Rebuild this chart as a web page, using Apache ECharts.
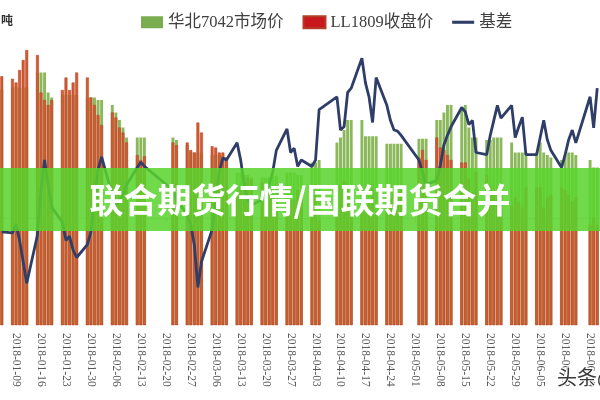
<!DOCTYPE html>
<html>
<head>
<meta charset="utf-8">
<script src="https://cdn.jsdelivr.net/npm/echarts/dist/echarts.min.js"></script>
<style>
html,body{margin:0;padding:0;background:#fff;}
#chart{width:600px;height:400px;}
</style>
</head>
<body>
<div id="chart"></div>
<script>
// Axis span (calendar days shown on the category axis)
const axisStart = '2018-01-05';
const axisEnd = '2018-06-21';

// Trading days
const tradeDates = [
'2018-01-05',
'2018-01-08','2018-01-09','2018-01-10','2018-01-11','2018-01-12',
'2018-01-15','2018-01-16','2018-01-17','2018-01-18','2018-01-19',
'2018-01-22','2018-01-23','2018-01-24','2018-01-25','2018-01-26',
'2018-01-29','2018-01-30','2018-01-31','2018-02-01','2018-02-02',
'2018-02-05','2018-02-06','2018-02-07','2018-02-08','2018-02-09',
'2018-02-12','2018-02-13','2018-02-14',
'2018-02-22','2018-02-23',
'2018-02-26','2018-02-27','2018-02-28','2018-03-01','2018-03-02',
'2018-03-05','2018-03-06','2018-03-07','2018-03-08','2018-03-09',
'2018-03-12','2018-03-13','2018-03-14','2018-03-15','2018-03-16',
'2018-03-19','2018-03-20','2018-03-21','2018-03-22','2018-03-23',
'2018-03-26','2018-03-27','2018-03-28','2018-03-29','2018-03-30',
'2018-04-02','2018-04-03','2018-04-04',
'2018-04-09','2018-04-10','2018-04-11','2018-04-12','2018-04-13',
'2018-04-16','2018-04-17','2018-04-18','2018-04-19','2018-04-20',
'2018-04-23','2018-04-24','2018-04-25','2018-04-26','2018-04-27',
'2018-05-02','2018-05-03','2018-05-04',
'2018-05-07','2018-05-08','2018-05-09','2018-05-10','2018-05-11',
'2018-05-14','2018-05-15','2018-05-16','2018-05-17','2018-05-18',
'2018-05-21','2018-05-22','2018-05-23','2018-05-24','2018-05-25',
'2018-05-28','2018-05-29','2018-05-30','2018-05-31','2018-06-01',
'2018-06-04','2018-06-05','2018-06-06','2018-06-07','2018-06-08',
'2018-06-11','2018-06-12','2018-06-13','2018-06-14','2018-06-15',
'2018-06-19','2018-06-20','2018-06-21'
];

// 华北7042市场价
const market7042 = [
9680,
9700,9700,9700,9700,9700,
9820,9820,9820,9660,9620,
9640,9640,9640,9640,9640,
9620,9620,9620,9600,9600,
9560,9500,9440,9380,9300,
9300,9300,9300,
9300,9280,
9240,9180,9180,9180,9180,
9160,9160,9160,9160,9140,
9020,9020,9000,9000,8980,
8980,8980,8980,8990,8990,
9020,9020,9020,9000,9000,
9100,9100,9120,
9260,9300,9360,9440,9440,
9440,9310,9310,9310,9310,
9250,9250,9250,9250,9250,
9290,9290,9290,
9440,9440,9500,9560,9560,
9540,9560,9380,9300,9300,
9280,9280,9300,9300,9300,
9260,9180,9180,9180,9180,
9180,9260,9180,9160,9140,
9120,9160,9180,9180,9160,
9120,9060,9060
];

// LL1809收盘价
const ll1809 = [
9790,
9770,9740,9840,9920,10000,
9960,9660,9600,9560,9600,
9680,9780,9680,9740,9820,
9780,9620,9560,9480,9400,
9500,9460,9380,9340,9260,
9160,9120,9150,
9260,9240,
9260,9200,9180,9420,9340,
9230,9220,9180,9180,9140,
8840,8900,8940,8980,8960,
8940,8920,8880,8840,8760,
8680,8800,8800,8880,8840,
8880,8840,8640,
8710,8910,8950,8870,8860,
8720,8700,8770,8890,8680,
8740,8810,8860,8860,8880,
9140,9200,9120,
9300,9220,9200,9160,9120,
9100,9100,8970,8860,9020,
9000,8910,8860,8800,8860,
8750,8820,8780,8740,8900,
8900,8900,8740,8820,8840,
8900,8880,8840,8790,8820,
8600,8660,8600
];

// 基差
const basis = [
-65,
-70,-30,-105,-205,-305,
-80,130,270,155,50,
-20,-105,-85,-150,-185,
-125,-65,85,225,285,
105,60,85,105,155,
235,260,240,
130,85,
15,-35,-125,-325,-205,
-55,85,215,280,270,
350,270,155,85,60,
85,105,155,215,315,
415,305,325,240,270,
240,270,505,
565,410,425,585,605,
745,630,565,445,655,
525,455,410,405,385,
270,215,155,
175,245,340,385,425,
515,495,435,455,305,
295,385,455,525,465,
525,375,425,470,295,
295,375,455,365,315,
235,295,365,410,350,
565,420,605
];

// Build the calendar axis and place the trading-day values on it
function fmt(d){
  const m = String(d.getUTCMonth()+1).padStart(2,'0');
  const dd = String(d.getUTCDate()).padStart(2,'0');
  return d.getUTCFullYear()+'-'+m+'-'+dd;
}
const calendar = [];
for (let t = Date.parse(axisStart+'T00:00:00Z'); t <= Date.parse(axisEnd+'T00:00:00Z'); t += 86400000) {
  calendar.push(fmt(new Date(t)));
}
const pos = {};
tradeDates.forEach((d,i)=>{pos[d]=i;});
const onAxis = arr => calendar.map(d => (d in pos) ? arr[pos[d]] : null);
const isTuesday = (idx, value) => new Date(value+'T00:00:00Z').getUTCDay() === 2;

const serifFont = "'Liberation Serif','Noto Sans CJK SC',serif";

const chart = echarts.init(document.getElementById('chart'), null, {renderer:'canvas'});
chart.setOption({
  animation: false,
  backgroundColor: '#ffffff',
  legend: {
    top: 9,
    left: 136,
    itemWidth: 22,
    itemHeight: 12,
    itemGap: 19,
    textStyle: {fontSize: 16.5, color: '#404040', fontFamily: serifFont},
    data: [
      {name: '华北7042市场价', icon: 'rect', itemStyle: {color: '#79ad4f'}},
      {name: 'LL1809收盘价', icon: 'rect', itemStyle: {color: '#c9171e'}},
      {name: '基差', icon: 'path://M0,0L100,0L100,14L0,14Z', itemStyle: {color: '#2f3e68'}}
    ]
  },
  grid: {left: 0, right: 1, top: 25, bottom: 75, containLabel: false},
  xAxis: {
    type: 'category',
    data: calendar,
    boundaryGap: true,
    axisLine: {lineStyle: {color: '#d0d0d0', width: 1}},
    axisTick: {show: true, alignWithLabel: true, interval: isTuesday, length: 4, lineStyle: {color: '#bfbfbf'}},
    axisLabel: {
      interval: isTuesday,
      rotate: -90,
      fontSize: 11.5,
      color: '#595959',
      fontFamily: serifFont,
      margin: 8
    },
    splitLine: {show: false}
  },
  yAxis: [
    {type: 'value', min: 7800, max: 10200, show: false, splitLine: {show: false}},
    {type: 'value', min: -500, max: 900, show: false, splitLine: {show: false}}
  ],
  series: [
    {
      name: '华北7042市场价',
      type: 'bar',
      data: onAxis(market7042),
      barCategoryGap: '18%',
      barGap: '-100%',
      itemStyle: {color: '#8cb85c'}
    },
    {
      name: 'LL1809收盘价',
      type: 'bar',
      data: onAxis(ll1809),
      barCategoryGap: '18%',
      barGap: '-100%',
      itemStyle: {color: '#d25a2d', borderColor: '#b2402a', borderWidth: 0.5}
    },
    {
      name: '基差',
      type: 'line',
      yAxisIndex: 1,
      data: onAxis(basis),
      connectNulls: true,
      symbol: 'none',
      lineStyle: {color: '#2f3e68', width: 2.8},
      itemStyle: {color: '#2f3e68'}
    }
  ],
  graphic: [
    {
      type: 'rect', z: 100,
      shape: {x: 0, y: 168, width: 600, height: 63},
      style: {fill: 'rgba(88,212,44,0.86)'}
    },
    {
      type: 'text', z: 101, left: 'center', top: 183,
      style: {text: '联合期货行情/国联期货合并', fill: '#ffffff', font: "bold 34px 'Noto Sans CJK SC'"}
    },
    {
      type: 'text', z: 101, left: 1, top: 14,
      style: {text: '吨', fill: '#333333', font: "bold 12px 'Noto Sans CJK SC'"}
    },
    {
      type: 'text', z: 101, left: 556, top: 366,
      style: {text: '头条@', fill: '#3a3a3a', stroke: '#ffffff', lineWidth: 2, font: "20px 'Noto Sans CJK SC'"}
    }
  ]
});
</script>
</body>
</html>
